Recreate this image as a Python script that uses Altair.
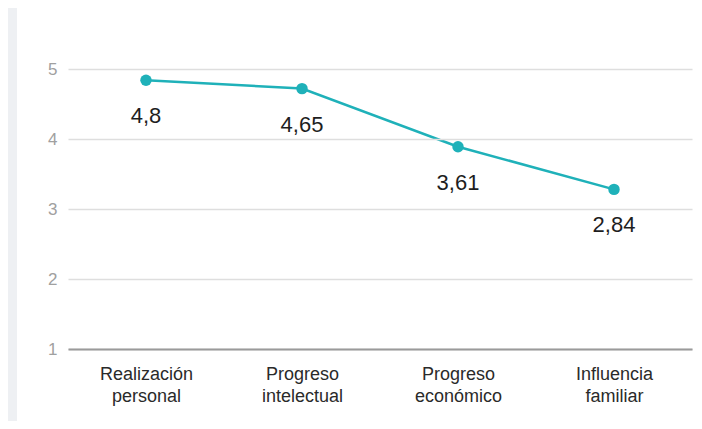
import altair as alt
import pandas as pd

categories = ["Realización personal", "Progreso intelectual", "Progreso económico", "Influencia familiar"]
positions = [4.84, 4.72, 3.89, 3.28]
labels = ["4,8", "4,65", "3,61", "2,84"]
y_ticks = [1, 2, 3, 4, 5]

df = pd.DataFrame({"cat": categories, "val": positions, "lab": labels})

FONT = "Liberation Sans"
TEAL = "#1fb1b9"

x_enc = alt.X("cat:N", sort=categories, title=None,
              scale=alt.Scale(paddingOuter=0.5, paddingInner=1),
              axis=alt.Axis(labelAngle=0, labelExpr="split(datum.label, ' ')",
                            labelFont=FONT, labelFontSize=18, labelColor="#2a2a2a",
                            labelLineHeight=22, labelPadding=16, labelBaseline="top",
                            ticks=False, domainColor="#9a9a9a", domainWidth=2,
                            grid=False, zindex=1))
y_enc = alt.Y("val:Q", title=None,
              scale=alt.Scale(domain=[1, 5], nice=False, zero=False),
              axis=alt.Axis(values=y_ticks, format="d", labelFont=FONT, labelFontSize=17,
                            labelColor="#a0a0a0", labelPadding=11, ticks=False,
                            domain=False, gridColor="#dedede", gridWidth=1.5, zindex=1))

bg = alt.Chart(df).mark_rect(color="white").encode(
    x=alt.value(-51), x2=alt.value(660), y=alt.value(-62), y2=alt.value(420))

base = alt.Chart(df).encode(x=x_enc, y=y_enc)
line = base.mark_line(color=TEAL, strokeWidth=2.5)
pts = base.mark_point(filled=True, opacity=1, color=TEAL, size=130)
txt = base.mark_text(dy=36, font=FONT, fontSize=22, color="#1e1e1e").encode(text="lab:N")

chart = alt.layer(bg, line, pts, txt).properties(
    width=624, height=280,
    autosize=alt.AutoSizeParams(type="none"),
    padding={"left": 60, "top": 61, "right": 2, "bottom": 72},
    background="#eef0f3",
).configure_view(stroke=None)

chart.save("out.html", embed_options={"renderer": "svg", "actions": False})
